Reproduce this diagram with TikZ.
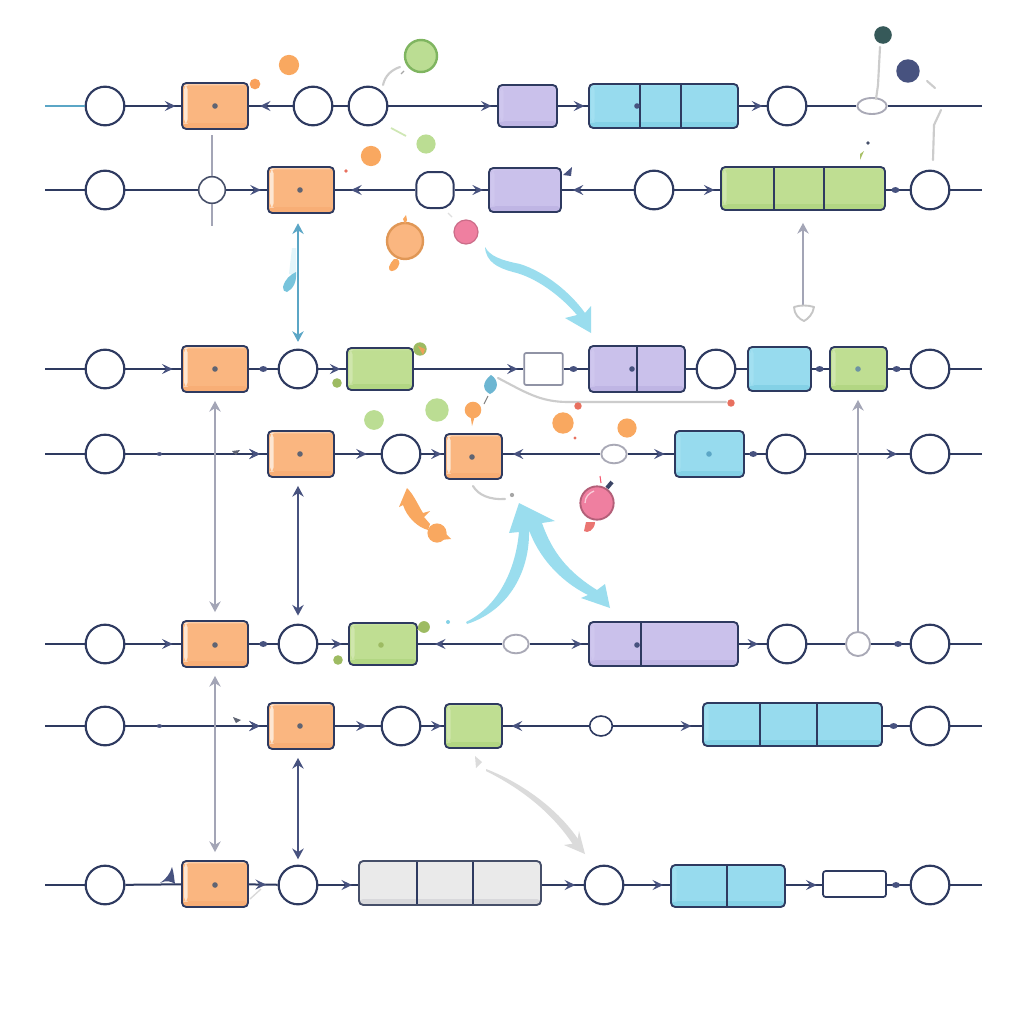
\documentclass[tikz,border=0pt]{standalone}
\usetikzlibrary{arrows.meta,decorations.markings,shapes.geometric}
\definecolor{navy}{HTML}{2E3A60}
\definecolor{tipc}{HTML}{47527F}
\definecolor{cOr}{HTML}{FAB680}\definecolor{cOrD}{HTML}{F8AE76}\definecolor{cOrL}{HTML}{FDE6D2}
\definecolor{cPu}{HTML}{CAC1EB}\definecolor{cPuD}{HTML}{BFB5E4}\definecolor{cPuL}{HTML}{CFC7EE}
\definecolor{cCy}{HTML}{97DBEE}\definecolor{cCyD}{HTML}{84D1E6}\definecolor{cCyL}{HTML}{A2E0F1}
\definecolor{cGr}{HTML}{BFDE92}\definecolor{cGrD}{HTML}{B2D683}\definecolor{cGrL}{HTML}{CFE6AC}
\definecolor{cGy}{HTML}{EAEAEA}\definecolor{cGyD}{HTML}{D8D8DB}\definecolor{cGyL}{HTML}{F4F4F4}
\definecolor{edgeG}{HTML}{A9A9B6}
\definecolor{vgray}{HTML}{A3A5B6}
\definecolor{bigc}{HTML}{9ADDEE}
\definecolor{pink}{HTML}{EF7FA0}
\definecolor{orb}{HTML}{F9A860}
\definecolor{grb}{HTML}{BBDD93}
\definecolor{vcy}{HTML}{5BA6C6}
\definecolor{leaf}{HTML}{9DBB62}
\definecolor{ringg}{HTML}{7FB560}
\definecolor{redd}{HTML}{E8705F}
\definecolor{feath}{HTML}{E3F5FA}
\tikzset{
  tipf/.tip={Stealth[length=8pt,width=7.5pt,inset=3pt,color=tipc]},
  tipv/.tip={Stealth[length=8pt,width=8.5pt,inset=2.6pt]},
  seg/.style={navy,line width=1.5pt},
  ft/.style={decoration={markings,mark=at position #1 with {\arrow{tipf}}},postaction={decorate}},
  bt/.style={decoration={markings,mark=at position #1 with {\arrowreversed{tipf}}},postaction={decorate}},
  dt/.style={decoration={markings,mark=at position #1 with {\fill[tipc] (0,0) ellipse (3pt and 2.2pt);}},postaction={decorate}},
  dts/.style={decoration={markings,mark=at position #1 with {\fill[tipc] (0,0) ellipse (2pt and 1.3pt);}},postaction={decorate}},
  ring/.style={circle,draw=navy,line width=1.6pt,fill=white,minimum size=29pt,inner sep=0pt},
  smallring/.style={circle,draw=edgeG,line width=1.4pt,fill=white,inner sep=0pt},
  oval/.style={ellipse,draw=edgeG,line width=1.4pt,fill=white,inner sep=0pt},
  boxn/.style={rectangle,rounded corners=3.2pt,draw=navy,line width=1.4pt,inner sep=0pt},
  vline/.style={vgray,line width=1.3pt},
  vnavy/.style={tipc,line width=1.3pt},
  vcyan/.style={vcy,line width=1.4pt},
  softline/.style={gray!40,line width=1.6pt,line cap=round},
  bigarrow/.style={fill=bigc,draw=none}
}
\newcommand{\rg}[3]{\node[ring] (#1) at (#2,#3) {};}
\newcommand{\bx}[6]{%
  \node[boxn,fill=c#6,minimum width={(#4-#2)*0.75pt},minimum height={(#5-#3)*0.75pt},
    path picture={
      \fill[c#6D] ([yshift=4.5pt]path picture bounding box.south west) rectangle (path picture bounding box.south east);
      \fill[c#6L!50!c#6] ([yshift=-1.8pt]path picture bounding box.north west) rectangle (path picture bounding box.north east);
      \fill[c#6L] ([xshift=1.6pt,yshift=-1.6pt]path picture bounding box.north west) rectangle ([xshift=4.2pt,yshift=4pt]path picture bounding box.south west);
    }] (#1) at ({(#2+#4)/2},{(#3+#5)/2}) {};}
\newcommand{\dv}[3]{\draw[navy,line width=1.2pt] (#1,#2) -- (#1,#3);}
\newcommand{\bd}[3]{\fill[#3] (#1,#2) circle (2.1pt);}
\begin{document}
\begin{tikzpicture}[x=0.75pt,y=-0.75pt]
\useasboundingbox (0,0) rectangle (1024,1024);
\fill[white] (0,0) rectangle (1024,1024);

% ---------- nodes
\foreach \n/\y in {s1/106,s2/190,s3/369,s4/454,s5/644,s6/726,s7/885}{\coordinate (\n) at (45,\y);}
\foreach \n/\y in {e1/106,e2/190,e3/369,e4/454,e5/644,e6/726,e7/885}{\coordinate (\n) at (982,\y);}

\rg{c11}{105}{106}\rg{c12}{313}{106}\rg{c13}{368}{106}\rg{c14}{787}{106}
\node[oval,minimum width=22pt,minimum height=12pt] (o11) at (872,106) {};
\bx{b11}{182}{83}{248}{129}{Or}
\bx{b12}{498}{85}{557}{127}{Pu}
\bx{b13}{589}{84}{738}{128}{Cy}

\rg{c21}{105}{190}\rg{c22}{654}{190}\rg{c23}{930}{190}
\node[circle,draw=navy!70!gray,line width=1.2pt,fill=white,minimum size=20pt,inner sep=0pt] (n21) at (212,190) {};
\node[rectangle,rounded corners=10pt,draw=navy,line width=1.5pt,fill=white,minimum width=28pt,minimum height=27pt,inner sep=0pt] (q21) at (435,190) {};
\bx{b21}{268}{167}{334}{213}{Or}
\bx{b22}{489}{168}{561}{212}{Pu}
\bx{b23}{721}{167}{885}{210}{Gr}

\rg{c31}{105}{369}\rg{c32}{298}{369}\rg{c34}{716}{369}\rg{c35}{930}{369}
\bx{b31}{182}{346}{248}{392}{Or}
\bx{b32}{347}{348}{413}{390}{Gr}
\node[rectangle,rounded corners=1.5pt,draw=edgeG!80!navy,line width=1.3pt,fill=white,minimum width=29pt,minimum height=24pt,inner sep=0pt] (w31) at (543.5,369) {};
\bx{b33}{589}{346}{685}{392}{Pu}
\bx{b34}{748}{347}{811}{391}{Cy}
\bx{b35}{830}{347}{887}{391}{Gr}

\rg{c41}{105}{454}\rg{c42}{401}{454}\rg{c43}{786}{454}\rg{c44}{930}{454}
\node[oval,minimum width=19pt,minimum height=14pt] (o41) at (614,454) {};
\bx{b41}{268}{431}{334}{477}{Or}
\bx{b42}{445}{434}{502}{479}{Or}
\bx{b43}{675}{431}{744}{477}{Cy}

\rg{c51}{105}{644}\rg{c52}{298}{644}\rg{c53}{787}{644}\rg{c54}{930}{644}
\node[smallring,minimum size=18pt] (n51) at (858,644) {};
\node[oval,minimum width=19pt,minimum height=14pt] (o51) at (516,644) {};
\bx{b51}{182}{621}{248}{667}{Or}
\bx{b52}{349}{623}{417}{665}{Gr}
\bx{b53}{589}{622}{738}{666}{Pu}

\rg{c61}{105}{726}\rg{c62}{401}{726}\rg{c63}{930}{726}
\node[ellipse,draw=navy,line width=1.2pt,fill=white,minimum width=17pt,minimum height=15pt,inner sep=0pt] (o61) at (601,726) {};
\bx{b61}{268}{703}{334}{749}{Or}
\bx{b62}{445}{704}{502}{748}{Gr}
\bx{b63}{703}{703}{882}{746}{Cy}

\rg{c71}{105}{885}\rg{c72}{298}{885}\rg{c73}{604}{885}\rg{c74}{930}{885}
\bx{b71}{182}{861}{248}{907}{Or}
\node[boxn,draw=navy!70!gray,fill=cGy,minimum width={182*0.75pt},minimum height={44*0.75pt},
   path picture={\fill[cGyD] ([yshift=4.5pt]path picture bounding box.south west) rectangle (path picture bounding box.south east);}] (b72) at (450,883) {};
\bx{b73}{671}{865}{785}{907}{Cy}
\node[rectangle,rounded corners=2pt,draw=navy,line width=1.3pt,fill=white,minimum width={63*0.75pt},minimum height={26*0.75pt},inner sep=0pt] (w71) at (854.5,884) {};

% ---------- dividers and dots in boxes
\dv{640}{85}{127}\dv{681}{85}{127}\bd{637}{106}{tipc}
\dv{774}{168}{209}\dv{824}{168}{209}
\dv{637}{347}{391}\bd{632}{369}{tipc}
\dv{641}{623}{665}\bd{637}{645}{tipc}
\dv{760}{704}{745}\dv{817}{704}{745}
\dv{417}{862}{904}\dv{473}{862}{904}
\dv{727}{866}{906}
\foreach \p/\q in {215/106,300/190,215/369,300/454,472/457,215/645,300/726,215/885}{\bd{\p}{\q}{gray!60!navy}}
\bd{709}{454}{vcy}
\bd{858}{369}{vcy!50!gray}
\bd{381}{645}{leaf}

% ---------- connectors
% row 1
\draw[line width=1.5pt,vcy] (s1) -- (c11);
\draw[seg,ft=.9] (c11) -- (b11);
\draw[seg,bt=.25] (b11) -- (c12);
\draw[seg] (c12) -- (c13);
\draw[seg,ft=.95] (c13) -- (b12);
\draw[seg,ft=.88] (b12) -- (b13);
\draw[seg,ft=.85] (b13) -- (c14);
\draw[seg] (c14) -- (o11);
\draw[seg] (o11) -- (e1);
% row 2
\draw[seg] (s2) -- (c21);
\draw[seg] (c21) -- (n21);
\draw[seg,ft=.85] (n21) -- (b21);
\draw[seg,bt=.2] (b21) -- (q21);
\draw[seg,ft=.85] (q21) -- (b22);
\draw[seg,bt=.15] (b22) -- (c22);
\draw[seg,ft=.88] (c22.east) -- (c22.east -| b23.west);
\draw[seg,dt=.4] (b23.east |- c23) -- (c23.west);
\draw[seg] (c23) -- (e2);
% row 3
\draw[seg] (s3) -- (c31);
\draw[seg,ft=.85] (c31) -- (b31);
\draw[seg,dt=.5] (b31) -- (c32);
\draw[seg,ft=.8] (c32) -- (b32);
\draw[seg,ft=.95] (b32) -- (w31);
\draw[seg,dt=.4] (w31) -- (b33);
\draw[seg] (b33) -- (c34);
\draw[seg] (c34) -- (b34);
\draw[seg,dt=.45] (b34) -- (b35);
\draw[seg,dt=.4] (b35) -- (c35);
\draw[seg] (c35) -- (e3);
% row 4
\draw[seg] (s4) -- (c41);
\draw[seg,dts=.24,ft=.95] (c41) -- (b41);
\draw[seg,ft=.7] (b41) -- (c42);
\draw[seg,ft=.9] (c42.east) -- (c42.east -| b42.west);
\draw[seg,bt=.1] (b42.east |- o41) -- (o41.west);
\draw[seg,ft=.8] (o41) -- (b43);
\draw[seg,dt=.4] (b43) -- (c43);
\draw[seg,ft=.88] (c43) -- (c44);
\draw[seg] (c44) -- (e4);
% row 5
\draw[seg] (s5) -- (c51);
\draw[seg,ft=.85] (c51) -- (b51);
\draw[seg,dt=.5] (b51) -- (c52);
\draw[seg,ft=.8] (c52) -- (b52);
\draw[seg,bt=.2] (b52) -- (o51);
\draw[seg,ft=.9] (o51) -- (b53);
\draw[seg,ft=.7] (b53) -- (c53);
\draw[seg] (c53) -- (n51);
\draw[seg,dt=.7] (n51) -- (c54);
\draw[seg] (c54) -- (e5);
% row 6
\draw[seg] (s6) -- (c61);
\draw[seg,dts=.24,ft=.95] (c61) -- (b61);
\draw[seg,ft=.7] (b61) -- (c62);
\draw[seg,ft=.9] (c62) -- (b62);
\draw[seg,bt=.1] (b62) -- (o61);
\draw[seg,ft=.88] (o61.east) -- (o61.east -| b63.west);
\draw[seg,dt=.4] (b63.east |- c63) -- (c63.west);
\draw[seg] (c63) -- (e6);
% row 7
\draw[seg] (s7) -- (c71);
\draw[seg] (c71) -- (b71);
\draw[seg,ft=.6] (b71) -- (c72);
\draw[seg,ft=.85] (c72.east) -- (c72.east -| b72.west);
\draw[seg,ft=.8] (b72.east |- c73) -- (c73.west);
\draw[seg,ft=.85] (c73.east) -- (c73.east -| b73.west);
\draw[seg,ft=.85] (b73.east |- s7) -- (s7 -| w71.west);
\draw[seg,dt=.4] (w71.east |- s7) -- (c74.west);
\draw[seg] (c74) -- (e7);

% ---------- vertical connectors
\coordinate (t1) at (212,135);\coordinate (t2) at (212,226);
\draw[vline] (t1) -- (n21);\draw[vline] (n21) -- (t2);
\fill[feath] (289,274) -- (292,248) -- (296,248) -- (296,274) -- cycle;
\fill[cCyD!70!vcy] (283,287) .. controls (285,279) and (290,275) .. (296,272) .. controls (297,282) and (293,289) .. (287,292) .. controls (284,292) and (283,290) .. cycle;
\draw[vcyan,{tipv}-{tipv},shorten <=7pt,shorten >=5pt] (b21.south -| c32) -- (c32.north);
\draw[vline,{tipv}-{tipv},shorten <=6pt,shorten >=6pt] (b31.south) -- (b51.north);
\draw[vnavy,{tipv}-{tipv},shorten <=6pt,shorten >=6pt] (b41.south -| c52) -- (c52.north);
\draw[vline,{tipv}-{tipv},shorten <=6pt,shorten >=6pt] (b51.south) -- (b71.north);
\draw[vnavy,{tipv}-{tipv},shorten <=6pt,shorten >=4pt] (b61.south -| c72) -- (c72.north);
\draw[vline,-{tipv},shorten >=6pt] (n51.north) -- (b35.south -| n51);
\coordinate (g1) at (803,306);
\draw[vline,-{tipv},shorten >=9pt] (g1) -- (b23.south -| g1);
\draw[gray!45,line width=1.4pt,fill=white,line join=round] (794,307) .. controls (800,305) and (808,305) .. (814,307) .. controls (813,314) and (808,319) .. (804,321) .. controls (799,319) and (794,314) .. cycle;

% ---------- big cyan arrows
\fill[bigarrow] (485,247) .. controls (490,256) and (500,260) .. (520,264)
  .. controls (545,272) and (570,292) .. (585,313) -- (591,306) -- (591,333) -- (565,318) -- (577,315)
  .. controls (560,295) and (535,277) .. (513,272) .. controls (498,268) and (486,262) .. cycle;
\fill[bigarrow] (466,622) .. controls (495,608) and (515,575) .. (519,532) -- (509,533) -- (519,503)
  -- (555,521) -- (542,523) .. controls (552,552) and (568,572) .. (597,590) -- (605,584) -- (610,608)
  -- (581,598) -- (588,595) .. controls (558,580) and (538,555) .. (529,530) .. controls (530,570) and (510,610) .. (467,624) -- cycle;

% ---------- soft grey arrow
\fill[gray!28] (486,769) .. controls (520,782) and (558,808) .. (580,842) -- (574,846) .. controls (552,812) and (520,788) .. (486,771) -- cycle;
\fill[gray!28] (585,854) -- (564,845) -- (577,843) -- (579,831) -- cycle;
\fill[gray!28] (475,756) -- (482,762) -- (476,768) -- cycle;

% ---------- loose pieces at upper left
\fill[orb] (289,65) circle (7.6pt);
\fill[orb!95!red] (255,84) circle (4pt);
\fill[orb] (371,156) circle (7.6pt);
\fill[redd] (346,171) circle (1.4pt);
\fill[grb] (426,144) circle (7.2pt);
\draw[grb!70,line width=1.3pt] (391,128) -- (406,136);
\node[circle,fill=grb,draw=ringg,line width=1.8pt,minimum size=24pt,inner sep=0pt] (d1) at (421,56) {};
\draw[softline] (383,85) .. controls (385,76) and (391,70) .. (400,67);
\draw[gray!70,line width=1pt] (401,74) -- (404,71);
\node[circle,fill=cOr,draw=orb!90!black,line width=1.8pt,minimum size=27pt,inner sep=0pt] (d2) at (405,241) {};
\fill[orb] (405,224) -- (403,219) -- (406,215) -- (407,220) -- cycle;
\fill[orb] (394,259) .. controls (399,258) and (401,262) .. (398,267) .. controls (394,273) and (388,272) .. (389,267) .. controls (390,264) and (392,261) .. cycle;
\node[circle,fill=pink,draw=pink!85!black,line width=.9pt,minimum size=18pt,inner sep=0pt] (d3) at (466,232) {};
\draw[gray!25,line width=1pt] (448,213) -- (452,217);
% top right
\fill[teal!40!gray!70!black] (883,35) circle (6.6pt);
\fill[tipc] (908,71) circle (8.8pt);
\draw[softline] (880,47) -- (878,85) -- (876,99);
\draw[softline] (927,81) -- (935,88);
\draw[softline] (941,110) -- (934,125) -- (933,160);
\fill[navy!70!gray] (868,143) circle (1.4pt);
\fill[grb!70!olive] (860,160) -- (860,154) -- (864,151) -- cycle;
\fill[tipc] (563,175) -- (572,167) -- (571,176) -- cycle;
% middle pieces
\fill[grb] (374,420) circle (7.4pt);
\fill[grb] (437,410) circle (8.8pt);
\fill[orb] (473,410) circle (6.2pt);
\fill[orb] (470,412) -- (476,412) -- (472,426) -- cycle;
\fill[orb] (563,423) circle (8pt);
\fill[orb] (627,428) circle (7.2pt);
\fill[redd] (575,438) circle (1.2pt);
\fill[vcy!70!cCy] (491,375) .. controls (499,380) and (499,390) .. (490,394) .. controls (482,390) and (482,382) .. cycle;
\draw[gray,line width=.8pt] (488,396) -- (484,404);
\draw[softline] (498,378) .. controls (525,392) and (540,402) .. (568,402) -- (726,402);
\fill[redd] (578,406) circle (2.8pt);
\fill[redd] (731,403) circle (2.8pt);
\fill[leaf] (420,349) circle (5pt);
\fill[orb!80!brown] (418,346) -- (425,349) -- (423,355) -- cycle;
\fill[leaf] (337,383) circle (3.6pt);
\node[circle,fill=pink,draw=pink!75!black,line width=1.4pt,minimum size=25pt,inner sep=0pt] (d4) at (597,503) {};
\draw[white!60!pink,line width=1pt] (585,503) .. controls (585,497) and (589,493) .. (594,491);
\draw[navy!85!gray,line width=3pt] (607,488) -- (612,482);
\draw[pink!70!red,line width=.8pt] (600,476) -- (601,483);
\fill[redd!70!pink] (586,522) -- (595,522) .. controls (595,530) and (587,534) .. (584,531) -- cycle;
\draw[softline] (473,486) .. controls (478,495) and (490,500) .. (505,499);
\fill[gray!70] (512,495) circle (1.6pt);
\fill[orb] (407,488) -- (399,507) -- (403,505) .. controls (407,517) and (417,527) .. (428,530) -- (430,524) -- (424,517) -- (430,511) -- (423,513) .. controls (418,505) and (414,495) .. cycle;
\fill[orb] (437,533) circle (7.2pt);
\fill[orb] (443,531) -- (451,539) -- (440,540) -- cycle;
\fill[cCyD] (448,622) circle (1.5pt);
\fill[leaf] (424,627) circle (4.4pt);
\fill[leaf] (417,630) -- (423,622) -- (426,631) -- cycle;
\fill[leaf] (338,660) circle (3.6pt);
\fill[gray!60!navy] (232,451) -- (240,450) -- (236,455) -- cycle;
\fill[gray!60!navy] (233,717) -- (241,720) -- (236,723) -- cycle;
\fill[tipc] (160,883) .. controls (166,879) and (170,874) .. (172,867) .. controls (174,873) and (174,878) .. (175,884) .. controls (171,881) and (166,880) .. cycle;
\draw[gray!30,line width=1pt] (250,899) -- (261,889);
\end{tikzpicture}
\end{document}
